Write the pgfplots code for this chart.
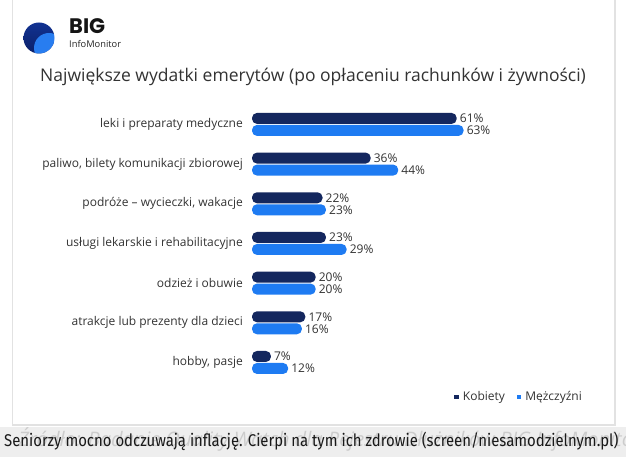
\documentclass[border=0pt]{standalone}
\usepackage{fontspec}
\setmainfont{Open Sans}
\newfontfamily\capfont{Fira Sans}
\newfontfamily\logofont{Poppins}
\usepackage{pgfplots}
\pgfplotsset{compat=1.18}
\definecolor{kob}{HTML}{14275E}
\definecolor{mez}{HTML}{1E7BF2}
\definecolor{txt}{HTML}{333333}
\definecolor{frame}{HTML}{E2E2E2}
\definecolor{capbg}{HTML}{EEEEEE}
\definecolor{logoA}{RGB}{18,52,150}
\definecolor{logoB}{RGB}{10,30,100}
\definecolor{logoC}{RGB}{40,125,240}
\begin{document}
\begin{tikzpicture}
\useasboundingbox (0pt,0pt) rectangle (626pt,457pt);
\fill[white] (0pt,0pt) rectangle (626pt,457pt);
% card frame
\draw[frame, line width=1.2pt] (12.5pt,457pt) -- (12.5pt,32pt) -- (615pt,32pt) -- (615pt,457pt);
% caption bar
\fill[capbg] (0pt,0pt) rectangle (626pt,30pt);
\begin{scope}
\clip (0pt,0pt) rectangle (626pt,30pt);
\node[anchor=base west, inner sep=0pt, text=black!20, font=\fontsize{20}{22}\selectfont\itshape] at (18pt,10.5pt) {Źródło: Badanie Quality Watch dla Rejestru Dłużników BIG InfoMonitor};
\end{scope}
\node[anchor=base west, inner sep=0pt, text=black!90, font=\capfont\fontsize{17}{19}\selectfont] at (4pt,10pt) {\scalebox{0.877}[1]{Seniorzy mocno odczuwają inflację. Cierpi na tym ich zdrowie (screen/niesamodzielnym.pl)}};
% logo
\begin{scope}
\clip (39pt,419pt) circle (15.5pt);
\shade[top color=logoA, bottom color=logoB] (20pt,400pt) rectangle (58pt,438pt);
\fill[logoC] (49pt,409pt) circle (15pt);
\end{scope}
\node[anchor=base west, inner sep=0pt, font=\logofont\bfseries\fontsize{21}{23}\selectfont, text=black!92] at (69pt,423.5pt) {BIG};
\node[anchor=base west, inner sep=0pt, font=\fontsize{9.3}{10}\selectfont, text=black!85] at (69pt,409pt) {InfoMonitor};
% title
\node[inner sep=0pt, font=\fontsize{17.5}{20}\selectfont, text=txt] at (313pt,380pt) {Największe wydatki emerytów (po opłaceniu rachunków i żywności)};
\begin{axis}[
  at={(252pt,74.7pt)}, anchor=south west,
  scale only axis, width=270.04pt, height=277.7pt,
  xmin=1.5, xmax=80, ymin=-0.5, ymax=6.5,
  hide x axis,
  axis y line*=left, y axis line style={draw=none},
  major tick length=0pt,
  ytick={0,1,2,3,4,5,6},
  yticklabels={{hobby, pasje},{atrakcje lub prezenty dla dzieci},{odzież i obuwie},{usługi lekarskie i rehabilitacyjne},{podróże – wycieczki, wakacje},{paliwo, bilety komunikacji zbiorowej},{leki i preparaty medyczne}},
  yticklabel style={inner sep=0pt, xshift=-9pt, font=\fontsize{12}{14}\selectfont, text=txt},
  /pgf/number format/assume math mode=true,
  xbar, bar width=11pt,
  nodes near coords={\pgfmathprintnumber{\pgfplotspointmeta}\%},
  nodes near coords style={font=\fontsize{12}{14}\selectfont, text=txt, anchor=west, inner sep=1pt, xshift=2pt},
  legend image code/.code={\fill[#1, sharp corners] (0pt,-2.2pt) rectangle (4.4pt,2.2pt); \path (6.5pt,0pt);},
  legend style={at={(1.2296,-0.053)}, anchor=east, draw=none, fill=none, inner sep=0pt, font=\fontsize{12}{14}\selectfont, text=txt, /tikz/every even column/.append style={column sep=10pt}},
  legend columns=2,
]
\addplot[fill=kob, draw=none, rounded corners=5pt, bar shift=6pt] coordinates {(7,0) (17,1) (20,2) (23,3) (22,4) (36,5) (61,6)};
\addplot[fill=mez, draw=none, rounded corners=5pt, bar shift=-6pt] coordinates {(12,0) (16,1) (20,2) (29,3) (23,4) (44,5) (63,6)};
\legend{Kobiety, Mężczyźni}
\end{axis}
\end{tikzpicture}
\end{document}
